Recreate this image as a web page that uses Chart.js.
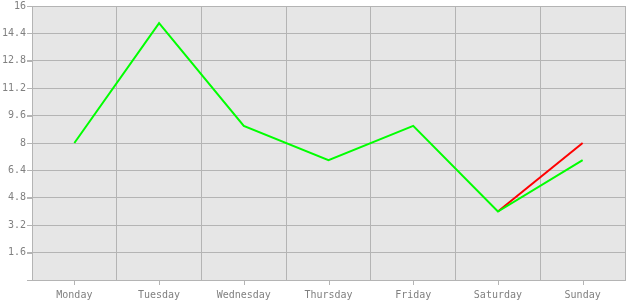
<!DOCTYPE html>
<html>
<head>
<meta charset="utf-8">
<script src="https://cdn.jsdelivr.net/npm/chart.js@4/dist/chart.umd.min.js"></script>
<style>
  html, body { margin: 0; padding: 0; background: #fff; }
  #wrap { width: 630px; height: 300px; }
</style>
</head>
<body>
<div id="wrap"><canvas id="chart"></canvas></div>
<script>
  const days = ["Monday", "Tuesday", "Wednesday", "Thursday", "Friday", "Saturday", "Sunday"];
  const greenValues = [8, 15, 9, 7, 9, 4, 7];
  const redValues = [null, null, null, null, null, 4, 8];
  const yTicks = [0, 1.6, 3.2, 4.8, 6.4, 8, 9.6, 11.2, 12.8, 14.4, 16];

  const gridColor = "#b4b4b4";
  const textColor = "#808080";

  const plotBackground = {
    id: "plotBackground",
    beforeDraw(chart) {
      const { ctx, chartArea: a } = chart;
      ctx.save();
      ctx.fillStyle = "#e6e6e6";
      ctx.fillRect(a.left, a.top, a.right - a.left, a.bottom - a.top);
      ctx.restore();
    }
  };

  // small tick marks: under category centres and left of each y value
  const tickMarks = {
    id: "tickMarks",
    afterDraw(chart) {
      const { ctx, chartArea: a } = chart;
      const x = chart.scales.x;
      const y = chart.scales.y;
      ctx.save();
      ctx.strokeStyle = gridColor;
      ctx.lineWidth = 1;
      days.forEach((d, i) => {
        const px = Math.round(x.getPixelForValue(i)) + 0.5;
        ctx.beginPath();
        ctx.moveTo(px, a.bottom);
        ctx.lineTo(px, a.bottom + 5);
        ctx.stroke();
      });
      yTicks.forEach((v) => {
        const py = Math.round(y.getPixelForValue(v)) + 0.5;
        ctx.beginPath();
        ctx.moveTo(a.left - 5, py);
        ctx.lineTo(a.left, py);
        ctx.stroke();
      });
      ctx.restore();
    }
  };

  new Chart(document.getElementById("chart"), {
    type: "line",
    data: {
      labels: days,
      datasets: [
        { data: greenValues, borderColor: "#00ff00", borderWidth: 2, pointRadius: 0, tension: 0, fill: false },
        { data: redValues, borderColor: "#ff0000", borderWidth: 2, pointRadius: 0, tension: 0, fill: false }
      ]
    },
    options: {
      responsive: true,
      maintainAspectRatio: false,
      animation: false,
      events: [],
      layout: { padding: { top: 5, right: 5, left: 0, bottom: 0 } },
      plugins: { legend: { display: false }, tooltip: { enabled: false } },
      scales: {
        x: {
          offset: true,
          grid: { offset: true, color: gridColor, drawTicks: false },
          border: { color: gridColor },
          ticks: {
            color: textColor,
            padding: 9,
            maxRotation: 0,
            font: { family: "'DejaVu Sans Mono', monospace", size: 10 }
          },
          afterFit(scale) { scale.height = 20; }
        },
        y: {
          min: 0,
          max: 16,
          afterBuildTicks(scale) { scale.ticks = yTicks.map((v) => ({ value: v })); },
          grid: { color: gridColor, tickLength: 5 },
          border: { color: gridColor },
          ticks: {
            color: textColor,
            padding: 1,
            font: { family: "'DejaVu Sans Mono', monospace", size: 10, lineHeight: 1 },
            callback: (v) => (v === 0 ? "" : String(v))
          },
          afterFit(scale) { scale.width = 32; }
        }
      }
    },
    plugins: [plotBackground, tickMarks]
  });
</script>
</body>
</html>
